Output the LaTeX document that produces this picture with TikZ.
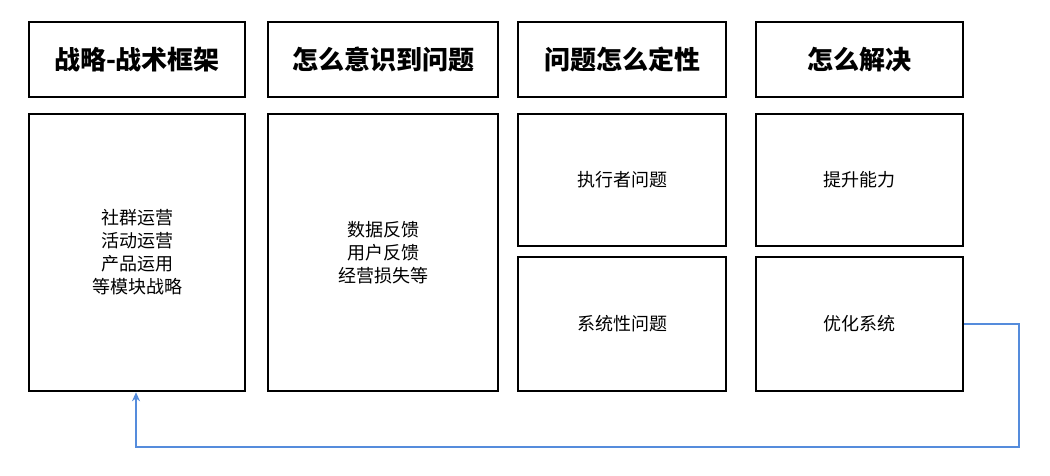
\documentclass[tikz,border=0pt]{standalone}
\usepackage{fontspec}
\newfontfamily\cjk{Noto Sans CJK SC}
\usetikzlibrary{positioning,arrows.meta}

\begin{document}
\begin{tikzpicture}[x=1pt,y=-1pt,
    box/.style={draw,line width=2.5pt,inner sep=0pt,align=center,font=\cjk\fontsize{18}{23}\selectfont},
    head/.style={box,font=\cjk\fontsize{26}{30}\selectfont\bfseries},
    link/.style={draw={rgb,255:red,85;green,140;blue,220},line width=1.6pt,-{Stealth[length=9pt,width=8pt,open]}}]
    \useasboundingbox (0,0) rectangle (1050,475);
    % headers
    \node[head,minimum width=216pt,minimum height=75pt] (h1) at (137,59.5) {战略-战术框架};
    \node[head,minimum width=230pt,minimum height=75pt] (h2) at (383,59.5) {怎么意识到问题};
    \node[head,minimum width=208pt,minimum height=75pt] (h3) at (622,59.5) {问题怎么定性};
    \node[head,minimum width=207pt,minimum height=75pt] (h4) at (859.5,59.5) {怎么解决};
    % bodies
    \node[box,minimum width=216pt,minimum height=277pt] (b1) at (137,252.5) {社群运营\\活动运营\\产品运用\\等模块战略};
    \node[box,minimum width=230pt,minimum height=277pt] (b2) at (383,252.5) {数据反馈\\用户反馈\\经营损失等};
    \node[box,minimum width=208pt,minimum height=132pt] (b3) at (622,180) {执行者问题};
    \node[box,minimum width=208pt,minimum height=134pt] (b4) at (622,324) {系统性问题};
    \node[box,minimum width=207pt,minimum height=132pt] (b5) at (859.5,180) {提升能力};
    \node[box,minimum width=207pt,minimum height=134pt] (b6) at (859.5,324) {优化系统};
    % feedback
    \coordinate (c1) at (1019,324);
    \coordinate (c2) at (1019,447);
    \coordinate (c3) at (136,447);
    \draw[link] (b6.east) -- (c1) -- (c2) -- (c3) -- (b1.south -| c3);
\end{tikzpicture}
\end{document}
